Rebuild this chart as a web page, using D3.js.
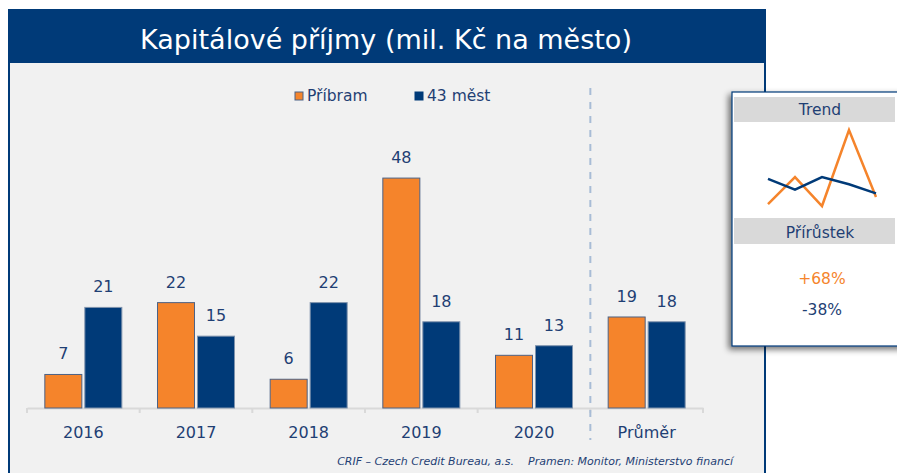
<!DOCTYPE html>
<html>
<head>
<meta charset="utf-8">
<script src="https://cdn.jsdelivr.net/npm/d3@7"></script>
<style>
  body { margin: 0; background: #fff; }
  svg { display: block; font-family: "DejaVu Sans", Verdana, sans-serif; }
</style>
</head>
<body>
<div id="chart"></div>
<script>
// data
const categories = ['2016', '2017', '2018', '2019', '2020', 'Průměr'];
const seriesNames = ['Příbram', '43 měst'];
const pribram = [7, 22, 6, 48, 11, 19];
const mest43 = [21, 15, 22, 18, 13, 18];
const trendYears = ['2016', '2017', '2018', '2019', '2020'];
const growth = ['+68%', '-38%'];

const W = 897, H = 473;
const orange = '#f5842b', navy = '#003a78', txt = '#1f3f74';

const svg = d3.select('#chart').append('svg')
  .attr('width', W).attr('height', H);

// drop shadow for the side panel
const filter = svg.append('defs').append('filter')
  .attr('id', 'shadow').attr('x', '-20%').attr('y', '-10%')
  .attr('width', '140%').attr('height', '130%');
filter.append('feGaussianBlur').attr('in', 'SourceAlpha').attr('stdDeviation', 3).attr('result', 'blur');
filter.append('feOffset').attr('in', 'blur').attr('dx', -3).attr('dy', 3).attr('result', 'off');
filter.append('feComponentTransfer').attr('in', 'off').attr('result', 'soft')
  .append('feFuncA').attr('type', 'linear').attr('slope', 0.55);
const fm = filter.append('feMerge');
fm.append('feMergeNode').attr('in', 'soft');
fm.append('feMergeNode').attr('in', 'SourceGraphic');

// frame
svg.append('rect').attr('x', 9).attr('y', 10).attr('width', 756).attr('height', H)
  .attr('fill', '#f1f1f1').attr('stroke', navy).attr('stroke-width', 2);
svg.append('rect').attr('x', 8).attr('y', 10).attr('width', 758).attr('height', 53)
  .attr('fill', navy);
svg.append('text').attr('x', 386).attr('y', 49)
  .attr('text-anchor', 'middle').attr('fill', '#fff')
  .style('font-size', '27px')
  .text('Kapitálové příjmy (mil. Kč na město)');

// scales
const x = d3.scaleBand().domain(categories).range([27, 703]);
const y = d3.scaleLinear().domain([0, 50]).range([408, 168.5]);
const barW = 37, gap = 3;

// axis
const axis = svg.append('g').attr('transform', 'translate(0,408)')
  .call(d3.axisBottom(x).tickSize(0).tickPadding(19));
axis.select('.domain').attr('stroke', '#d9d9d9').attr('stroke-width', 2);
axis.selectAll('text').attr('fill', txt).style('font-size', '16px')
  .style('font-family', '"DejaVu Sans", Verdana, sans-serif');
axis.selectAll('.tb').data(categories.concat(['end'])).enter().append('line')
  .attr('x1', (d, i) => 27 + i * x.step()).attr('x2', (d, i) => 27 + i * x.step())
  .attr('y1', 0).attr('y2', 5).attr('stroke', '#d9d9d9').attr('stroke-width', 2);

// dashed separator before the average
const sepX = x('Průměr');
svg.append('line').attr('x1', sepX).attr('x2', sepX).attr('y1', 88).attr('y2', 440)
  .attr('stroke', '#a8bcd6').attr('stroke-width', 2).attr('stroke-dasharray', '7,7');

// bars
const series = [
  { name: seriesNames[0], values: pribram, color: orange, stroke: '#4d6285', dx: -gap / 2 - barW },
  { name: seriesNames[1], values: mest43, color: navy, stroke: '#7f93ad', dx: gap / 2 }
];
series.forEach(s => {
  const g = svg.append('g');
  g.selectAll('rect').data(s.values).enter().append('rect')
    .attr('x', (d, i) => x(categories[i]) + x.bandwidth() / 2 + s.dx)
    .attr('y', d => y(d))
    .attr('width', barW)
    .attr('height', d => y(0) - y(d))
    .attr('fill', s.color)
    .attr('stroke', s.stroke).attr('stroke-width', 1);
  g.selectAll('text').data(s.values).enter().append('text')
    .attr('x', (d, i) => x(categories[i]) + x.bandwidth() / 2 + s.dx + barW / 2)
    .attr('y', d => y(d) - 15)
    .attr('text-anchor', 'middle').attr('fill', txt)
    .style('font-size', '16px')
    .text(d => d);
});

// legend
const legend = svg.append('g');
[[295, orange, '#4d6285'], [415, navy, navy]].forEach((l, i) => {
  legend.append('rect').attr('x', l[0]).attr('y', 92).attr('width', 8).attr('height', 8)
    .attr('fill', l[1]).attr('stroke', l[2]).attr('stroke-width', 1);
  legend.append('text').attr('x', l[0] + 12).attr('y', 101)
    .attr('fill', txt).style('font-size', '15.5px').text(seriesNames[i]);
});

// footer
svg.append('text').attr('x', 733).attr('y', 465).attr('text-anchor', 'end')
  .attr('fill', txt).style('font-size', '11px').style('font-style', 'italic')
  .style('white-space', 'pre')
  .text('CRIF – Czech Credit Bureau, a.s.    Pramen: Monitor, Ministerstvo financí');

// side panel
const panel = svg.append('g');
panel.append('rect').attr('x', 732).attr('y', 92).attr('width', 180).attr('height', 254)
  .attr('fill', '#fff').attr('stroke', navy).attr('stroke-width', 1.2)
  .attr('filter', 'url(#shadow)');
panel.append('rect').attr('x', 734).attr('y', 97).attr('width', 161).attr('height', 25).attr('fill', '#d9d9d9');
panel.append('rect').attr('x', 734).attr('y', 218).attr('width', 161).attr('height', 26).attr('fill', '#d9d9d9');
panel.append('text').attr('x', 820).attr('y', 115).attr('text-anchor', 'middle')
  .attr('fill', txt).style('font-size', '15.5px').text('Trend');
panel.append('text').attr('x', 820).attr('y', 238).attr('text-anchor', 'middle')
  .attr('fill', txt).style('font-size', '15.5px').text('Přírůstek');
panel.append('text').attr('x', 822).attr('y', 284).attr('text-anchor', 'middle')
  .attr('fill', orange).style('font-size', '15.5px').text(growth[0]);
panel.append('text').attr('x', 822).attr('y', 315).attr('text-anchor', 'middle')
  .attr('fill', txt).style('font-size', '15.5px').text(growth[1]);

// sparklines
const sx = d3.scalePoint().domain(trendYears).range([768, 876]);
const sy = d3.scaleLinear().domain([0, 50]).range([216.9, 126.4]);
const line = d3.line().x((d, i) => sx(trendYears[i])).y(d => sy(d));
panel.append('path').datum(pribram.slice(0, 5)).attr('d', line)
  .attr('fill', 'none').attr('stroke', orange).attr('stroke-width', 2.5);
panel.append('path').datum(mest43.slice(0, 5)).attr('d', line)
  .attr('fill', 'none').attr('stroke', navy).attr('stroke-width', 2.5);
</script>
</body>
</html>
